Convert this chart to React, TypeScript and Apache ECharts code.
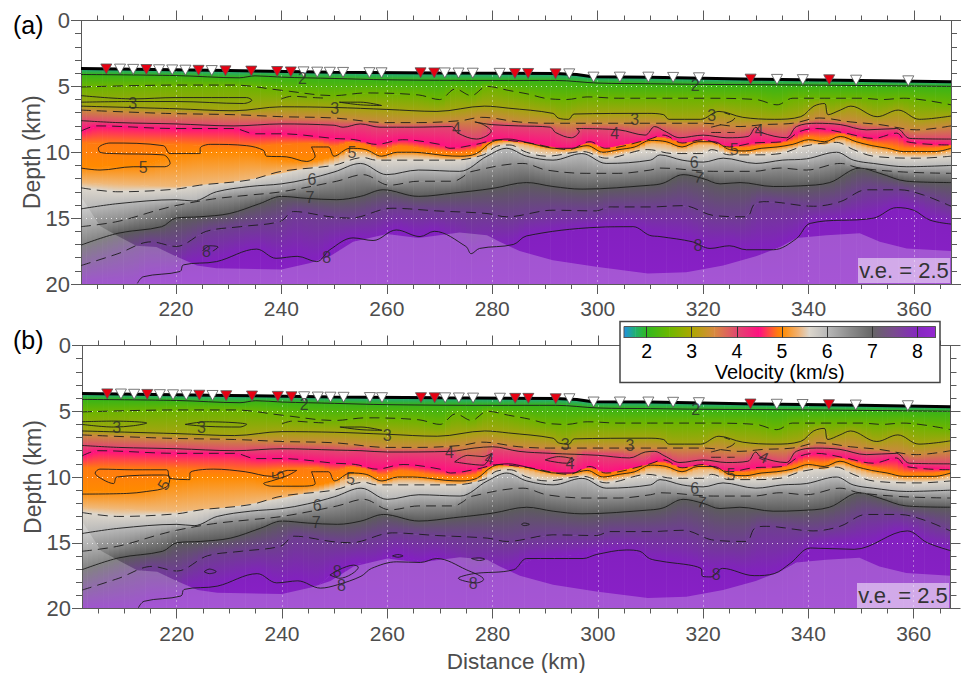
import React, { useEffect, useRef } from "react";
import * as echarts from "echarts";

type P = number[][];

const X_MIN = 202, X_MAX = 367;
const xMajor = [220, 240, 260, 280, 300, 320, 340, 360];
const xMinor = [205, 210, 215, 225, 230, 235, 245, 250, 255, 265, 270, 275, 285, 290, 295, 305, 310, 315, 325, 330, 335, 345, 350, 355, 365];
const yMajor = [0, 5, 10, 15, 20];
const yMinor = [1, 2, 3, 4, 6, 7, 8, 9, 11, 12, 13, 14, 16, 17, 18, 19];
const barTicks = [2, 3, 4, 5, 6, 7, 8];

// colour bar
const barVelocity = [1.5, 1.75, 2, 2.5, 3, 3.5, 4, 4.5, 4.9, 5, 5.35, 5.6, 6, 6.5, 7, 7.5, 8, 8.4];
const barColor = ["#2090e0", "#20b070", "#30b820", "#6cb800", "#aca800", "#d88a40", "#e04870", "#ff1080", "#ff7a10", "#ff8a00", "#f0b070", "#dcd6cc", "#b8b8b8", "#8c8c8c", "#666666", "#7a4a90", "#8528c0", "#9428d0"];

// iso-velocity depths [distance km, depth km]
const seafloor: P = [[202,3.65],[230,3.8],[250,3.92],[270,3.98],[292,4.03],[296,4.1],[299,4.27],[310,4.3],[330,4.45],[350,4.55],[367,4.65]];
const c2: P = [[202,4.1],[220,4.18],[232,4.35],[235,4.2],[240,4.3],[250,4.4],[260,4.5],[280,4.55],[292,4.55],[300,4.75],[310,4.8],[320,4.85],[340,4.9],[367,5.0]];
const c25: P = [[202,5.05],[220,4.9],[231,4.9],[240,5.3],[250,5.7],[256,5.5],[266,5.65],[270,6.0],[273,5.2],[276,5.7],[279,5],[283,5.3],[287,5.6],[290,5.9],[294,6],[298,5.8],[304,5.9],[310,5.9],[320,5.9],[330,6.0],[334,6.4],[337,5.9],[343,5.9],[350,5.9],[354,6.0],[358,5.9],[367,6.4]];
const c3: P = [[202,6.5],[220,6.7],[231,6.85],[240,6.55],[250,6.6],[260,6.75],[269.5,6.9],[278.5,6.5],[283,6.65],[291.5,7.05],[292.5,7.4],[294.5,7.5],[295.5,7.1],[309.5,7.05],[312.5,7.15],[313.5,7.5],[319.5,7.5],[323,6.9],[327.5,7.35],[333.5,7.5],[338.5,7.3],[341,6.5],[343,6.3],[343.7,7.15],[346,6.8],[348,6.5],[353,7.3],[357,6.8],[361,7.5],[367,7.25]];
const c35: P = [[202,6.8],[218,7.05],[231,7.15],[240,7.3],[250,7.4],[260,7.75],[266,7.75],[274,7.6],[278,7.35],[280,7.4],[285,7.7],[291,7.8],[300,7.8],[310,7.8],[320,7.8],[327,8.05],[331.5,7.9],[337,7.8],[342,7.4],[348,7.7],[353.5,7.9],[360.5,8.3],[367,8.0]];
const c4A: P = [[202,7.6],[209,7.75],[220,7.85],[231,8],[240,7.85],[250,7.95],[251.7,8.1],[255,7.85],[258.7,8.1],[265,8.1],[272.3,8.05],[273.5,8.55],[277,9],[279.8,8.4],[278.3,7.9],[276.7,7.7],[279.8,7.9],[285,8],[291,8.1],[292,8.5],[295,8.9],[296.5,8.4],[296,8.2],[304,8.3],[309,8.7],[310.8,8.05],[312.7,8.4],[315.6,8.9],[320,8.7],[324.5,8.9],[328.5,8.8],[330,8.1],[331,8.5],[335.8,8.9],[337.7,8.05],[341.5,7.8],[346,7.9],[351,8.3],[356.7,8.2],[359.2,8.95],[367,9.0]];
const c4B: P = [[202,7.6],[209,7.75],[220,7.85],[231,8],[240,7.85],[250,7.95],[255,8.0],[260,8.1],[272,8.05],[276.5,7.8],[280,7.7],[285,8.05],[291,8.2],[300,8.35],[306,8.55],[309,8.1],[310.8,8.05],[312.7,8.4],[315.6,8.9],[320,8.7],[324.5,8.9],[328.5,8.8],[330,8.1],[331,8.5],[335.8,8.9],[337.7,8.05],[341.5,7.8],[346,7.9],[351,8.3],[356.7,8.2],[359.2,8.95],[367,9.0]];
const c45: P = [[202,8.4],[205,8.0],[220,8.2],[231,8.2],[235,8.6],[240,8.6],[250,8.95],[254,9.05],[258,9.4],[263,9.05],[270,9.4],[272,9.7],[277,9.4],[281,9.06],[287,9.3],[294.5,9.8],[298.5,9.2],[301.5,9.7],[309.5,9.05],[312.5,8.7],[316,9.3],[320,9.05],[325,9.6],[329.5,9.3],[335,9.2],[338.5,8.4],[341.5,8.2],[347,8.55],[352.3,8.95],[356.7,8.55],[358.6,9.2],[367,9.45]];
const c48: P = [[202,9.3],[220,9.4],[232,9.6],[240,9.4],[247,9.3],[250,9.6],[253,9.2],[256,9.4],[259,9.9],[262,9.5],[265,9.6],[268,9.8],[271,9.95],[274,10.0],[277,9.8],[280,8.95],[283,8.7],[286,8.9],[289,9.2],[292,9.4],[295,9.4],[298,9.2],[301,9.7],[304,9.5],[307,9.3],[310,8.85],[313,8.95],[316,9.35],[319,8.95],[322,8.95],[325,9.55],[328,9.65],[331,9.45],[334,9.35],[337,9.15],[340,8.8],[343,8.95],[346,8.55],[349,8.95],[352,9.25],[355,9.45],[358,9.7],[361,9.7],[364,9.7],[367,9.45]];
const c5Right: P = [[250,10.3],[253,9.7],[256,9.8],[259,10.3],[262,10.0],[265,10.0],[268,10.1],[271,10.25],[274,10.3],[277,10.1],[280,9.2],[283,9.0],[286,9.2],[289,9.5],[292,9.7],[295,9.7],[298,9.5],[301,10.0],[304,9.8],[307,9.6],[310,9.1],[313,9.2],[316,9.6],[319,9.2],[322,9.2],[325,9.8],[328,9.9],[331,9.7],[334,9.6],[337,9.4],[340,9.05],[343,9.2],[346,8.8],[349,9.2],[352,9.5],[355,9.7],[358,9.95],[361,9.95],[364,9.95],[367,9.7]];
const c5FieldLeft: P = [[202,11.1],[214,11.0],[218,10.4],[224,10.0],[234,10.0],[238,10.4],[243,10.7],[247,10.6]];
const c5LeftA: P = [[202,11.2],[205.6,11.35],[211.9,11.1],[217.9,11.1],[218.9,10.85],[217.6,10.2],[208.1,10.1],[205.6,10],[205.3,9.7],[207.5,9.3],[217.6,9.5],[218.9,10.1],[224.6,10.1],[224.6,9.7],[226.5,9.4],[233.4,9.5],[236.6,9.85],[237.2,10.3],[241,10.35],[244.8,10.7],[246.4,10.3],[245.7,9.6],[248.9,9.6],[250,10.3]];
const c5LeftB: P = [[202,11.3],[210.5,11.25],[214.3,11.1],[218.1,10.75],[218.7,10],[217.5,9.85],[208.6,10],[208,10.5],[206,10.2],[204.5,9.7],[205.4,9.4],[211.8,9.45],[218.1,9.45],[218.7,10.1],[222.5,10.2],[222.5,9.7],[227,9.4],[233,9.6],[238,9.95],[241,9.5],[242.8,9.5],[241,9.9],[238,10.3],[236.5,10.5],[238,10.7],[243.4,10.7],[246.3,10.5],[245.6,9.6],[248.8,9.6],[250,10.3]];
const c53: P = [[202,12.3],[220,12.6],[230,12.3],[240,11.6],[247,11.0],[250,10.65],[253,9.95],[256,10.05],[259,10.55],[262,10.25],[265,10.25],[268,10.35],[271,10.5],[274,10.55],[277,10.35],[280,9.45],[283,9.25],[286,9.45],[289,9.75],[292,9.95],[295,9.95],[298,9.75],[301,10.25],[304,10.05],[307,9.85],[310,9.35],[313,9.45],[316,9.85],[319,9.45],[322,9.45],[325,10.05],[328,10.15],[331,9.95],[334,9.85],[337,9.65],[340,9.3],[343,9.45],[346,9.05],[349,9.45],[352,9.75],[355,9.95],[358,10.2],[361,10.2],[364,10.2],[367,9.95]];
const c55: P = [[202,12.7],[209,13],[220,12.8],[224.5,12.5],[234,12.1],[240,11.45],[249.8,11],[255.5,10.4],[258,10.6],[263.7,10.6],[272.6,10.6],[278.3,10.2],[280.8,9.55],[283.3,9.45],[286.5,10],[290.3,10.3],[297.2,9.95],[301.6,10.45],[309.5,9.8],[314.3,10.1],[320,10.1],[321.6,9.8],[325,10.2],[329.5,10.2],[334.6,10.1],[339,9.55],[345.3,9.25],[348.5,9.8],[352.3,10.3],[361,10.45],[367,10.3]];
const c6: P = [[202,14.3],[209,13.9],[220,13.6],[223.3,13.7],[227.7,13],[234,12.6],[240,12.4],[244.8,12.05],[250,11.5],[255,10.85],[260,11.7],[266,11.35],[273.8,11.45],[279,10.3],[282.7,9.7],[286.5,10.3],[291.5,10.6],[297,10.1],[301.6,10.85],[310,10.6],[311.8,10.2],[316,10.6],[320,10.75],[323.8,10.45],[330,10.85],[335,10.6],[339.6,10.5],[345.3,10.0],[348.5,10.6],[352.3,10.85],[358.6,11.1],[367,11]];
const c65: P = [[202,15.65],[209,15.25],[216.5,14.4],[220,14.05],[227,13.55],[234,13.25],[240,13],[250.5,12.2],[255.5,11.7],[260.5,12.5],[266,12.2],[272.6,12.2],[274.5,11.85],[275.7,11.5],[285.8,10.85],[290.3,11.35],[297.8,11.6],[304,11.6],[310,11.35],[311.8,11.2],[322,11.45],[329.5,11.45],[334.6,11.2],[339.6,11.35],[346,10.85],[349.7,11.2],[358,11.5],[367,11.6]];
const c7: P = [[202,17.05],[209,16.15],[217.3,15.65],[220,15],[224.5,14.9],[230.2,14.65],[235.9,13.9],[240,13.35],[244.8,13.5],[250.5,13.6],[255,13.35],[259.3,12.85],[266,13.35],[272.6,13.1],[280,12.75],[286.5,12.3],[291.5,12.6],[297,12.8],[310,12.5],[312.4,12.35],[316.2,11.7],[320,12],[323.2,12.4],[327,12.3],[333.3,12.6],[338.4,12.55],[344,12.3],[349.7,11.2],[353.5,11.6],[358.6,12.2],[367,12.3]];
const c75: P = [[202,18.6],[209,17.7],[215.3,16.8],[220,17.15],[225.8,16],[232.2,15.65],[239.8,15.25],[242.3,14.5],[249.3,14.9],[253,15],[261,14.25],[269.4,14.45],[279,14.65],[282.7,14.9],[291.5,14.4],[299.7,14.45],[302.3,14.15],[310,14.15],[316.2,14.05],[322,14.8],[328.2,14.9],[329.8,13.9],[332,13.75],[340.9,14.1],[346,13.75],[351,12.85],[357.3,12.85],[361.8,13.25],[367,14.1]];
const c8A: P = [[212.7,19.95],[213.8,19.45],[220.8,19.05],[221.4,18.55],[227.7,18.3],[235.3,17.35],[239,18.05],[243,17.9],[246.7,18.3],[249.2,17.4],[253.6,16.5],[257.4,16.7],[261.8,15.9],[266.3,16.4],[269,16],[275,17.15],[276,17.7],[277.6,17.3],[284,17],[286.5,16.35],[299.7,15.7],[306.7,15.65],[309.8,16.3],[311.8,16.4],[318,16.8],[321.3,17.3],[325,17.1],[328.2,17.4],[333.3,17.4],[337.7,16.55],[340.3,15.4],[352.3,15],[356.7,14.2],[359.9,14.4],[363,15.15],[367,15.45]];
const c8B: P = [[212.7,19.95],[213.8,19.45],[220.8,19.05],[221.4,18.55],[227.7,18.3],[235.3,17.35],[239,18.05],[243,17.9],[247.3,18.45],[250.5,18.2],[255,17.55],[257,16.95],[261.8,16.45],[266.3,16.5],[269.4,16.2],[275,17.05],[278.3,17.8],[277,18.05],[273.5,17.7],[276.4,17.35],[284,17.05],[286.5,16.2],[297.2,16.2],[299.7,15.9],[305.4,15.55],[308,15.65],[309.8,16.2],[312,16.4],[319.6,16.95],[319.9,17.55],[321.5,17.6],[323.7,16.95],[329.7,17.5],[333.5,17.35],[336.6,16.55],[340.4,15.4],[348.7,15.5],[358.8,14.1],[362.6,15],[367,15.6]];
const c8Field: P = [[202,20],[212.7,20]];
const bottomDepth: P = [[202,20],[367,20]];

// closed or short extra contours
const extraA: P[] = [
  [[202,5.7],[211.9,5.95],[220,5.85],[233.4,5.85],[234.4,6.05],[232.8,6.3],[220,6.15],[211.9,6.15],[202,6.2]],
  [[251,6.2],[255,6.4],[259,6.45],[255,6.2],[251,6.2]],
  [[225,17.5],[226.5,17.1],[228,17.2],[227,17.5]],
];
const extraB: P[] = [
  [[202,5.8],[208,5.75],[214.3,5.9],[211.8,6.1],[208,6.2],[202,6.0]],
  [[221.6,6.0],[225.7,5.8],[233.3,6.0],[232,6.2],[225.7,6.15],[221.6,6.0]],
  [[251,6.2],[255,6.4],[259,6.45],[255,6.2],[251,6.2]],
  [[272.8,8.85],[275.3,8.35],[278.2,8.45],[279.8,8.2],[278.2,9.1],[275.3,9],[272.8,8.85]],
  [[290,8.7],[292.5,8.45],[295.5,8.7],[294,8.95],[291,8.8],[290,8.7]],
  [[225.2,17.2],[226.2,17.0],[227.5,17.2],[226.2,17.35],[225.2,17.2]],
  [[261,16],[262,15.9],[263,16.0],[262,16.1],[261,16]],
  [[276,16.2],[277.5,16.15],[278.5,16.25],[277.5,16.35],[276,16.2]],
  [[285.5,13.6],[286,13.5],[287,13.6],[286,13.7],[285.5,13.6]],
  [[249.1,17.45],[253.6,16.7],[254.5,16.85],[251,17.7],[249.1,17.45]],
];
const extraDashed: P[] = [
  [[240,5.95],[242,5.75],[246,5.85],[249,5.9]],
  [[321.5,8.1],[325,7.7],[326,7.4],[324,7.0]],
  [[321.5,8.5],[326,8.5]],
];

// edge of ray coverage
const coverageEdge: P = [[202,13.4],[202.4,13.6],[205.6,15.6],[208.7,16.3],[212.5,17.1],[216.3,17.2],[220,17.9],[224,18.6],[227.7,18.8],[240,18.9],[245.5,18.4],[249.2,17.9],[253.6,16.8],[260,16.2],[266,16.5],[273.8,16.1],[279,16.3],[281.4,16.8],[285.2,17.5],[291.5,18.2],[299.7,18.7],[309.5,19.2],[316.8,19.1],[323.8,18.6],[330,17.9],[334.6,17.2],[337.7,16.5],[343.4,16.3],[349.7,16.15],[353.5,16.8],[358.6,17.3],[367,17.5]];

const redStations: P = [[206.8,3.68],[214.4,3.72],[224.3,3.78],[229.4,3.82],[234.3,3.84],[239.2,3.87],[241.8,3.9],[266.4,3.97],[269,3.98],[284.3,4.02],[286.8,4.02],[292,4.05],[329,4.45],[343.9,4.5]];
const whiteStations: P = [[209.4,3.69],[211.9,3.71],[216.8,3.74],[219.3,3.75],[221.8,3.77],[226.8,3.8],[244.2,3.9],[246.8,3.92],[249.2,3.93],[251.7,3.94],[256.7,3.96],[259,3.97],[271,3.98],[273.6,3.99],[276.3,4],[281.4,4.01],[294.6,4.05],[299.2,4.3],[304.2,4.3],[309.6,4.3],[314.3,4.32],[319.2,4.35],[334,4.47],[338.9,4.49],[349,4.53],[358.9,4.58]];

// contour labels: distance, depth, text, rotation
const labelsA: (number | string)[][] = [
  [244,4.4,"2",0],[318.5,4.9,"2",0],[211.8,6.3,"3",0],[250.1,6.7,"3",0],[321.6,7.2,"3",0],[307,7.55,"3",0],
  [273.2,8.2,"4",0],[303.2,8.55,"4",0],[330.6,8.35,"4",0],[213.8,11.15,"5",0],[253.4,10,"5",0],[325.9,9.8,"5",0],
  [245.8,12.1,"6",0],[318.3,10.75,"6",0],[245.4,13.45,"7",0],[319.2,11.9,"7",-10],[225.8,17.5,"8",0],[248.6,18,"8",0],[319,17.1,"8",0],
];
const labelsB: (number | string)[][] = [
  [244.2,4.5,"2",0],[318.6,4.85,"2",0],[208.6,6.2,"3",0],[224.7,6.2,"3",0],[260,6.85,"3",0],[293.8,7.55,"3",0],[306.1,7.6,"3",0],
  [271.8,8.1,"4",0],[279.4,8.6,"4",-10],[294.7,9,"4",0],[331.5,8.5,"4",-25],[217.5,10.6,"5",60],[239.3,9.85,"5",90],[253,10.1,"5",0],[325.3,9.8,"5",0],
  [246.7,12.15,"6",0],[318.4,10.85,"6",0],[246.5,13.45,"7",0],[319.7,11.9,"7",-10],[250.5,17.15,"8",0],[251.3,18.25,"8",0],[276.3,18.1,"8",0],[322.5,17.45,"8",0],
];

const fieldLevels: P[] = [seafloor, c2, c25, c3, c35, c4A, c45, c48, [...c5FieldLeft, ...c5Right], c53, c55, c6, c65, c7, c75, [...c8Field, ...c8A], bottomDepth];
const fieldColors = ["#20a888", "#38b418", "#6cb400", "#a4a410", "#c88a3c", "#e04870", "#ff1080", "#ff7a10", "#ff8a00", "#f0b878", "#dcd6cc", "#b8b8b8", "#8c8c8c", "#5c5c5c", "#6e3f90", "#8320c0", "#8a20c8"];

function depthAt(nodes: P, x: number): number {
  if (x <= nodes[0][0]) return nodes[0][1];
  for (let i = 0; i < nodes.length - 1; i++) {
    const a = nodes[i], b = nodes[i + 1];
    if (b[0] > a[0] && x >= a[0] && x <= b[0]) return a[1] + ((b[1] - a[1]) * (x - a[0])) / (b[0] - a[0]);
  }
  return nodes[nodes.length - 1][1];
}

const columnCache = new Map<number, number[]>();
function column(x: number): number[] {
  let c = columnCache.get(x);
  if (!c) {
    c = [];
    let prev = 0;
    for (const l of fieldLevels) {
      prev = Math.max(prev, depthAt(l, x));
      c.push(prev);
    }
    columnCache.set(x, c);
  }
  return c;
}

const fieldCells: number[][] = [];
for (let x = X_MIN; x < X_MAX; x++) for (let k = 0; k < fieldLevels.length - 1; k++) fieldCells.push([x, x + 1, k]);

const FONT = "'Liberation Sans', Arial, sans-serif";
const GREY = "#5a5a5a";
const TXT = "#4d4d4d";

function xAxes(gridIndex: number, labelMargin: number) {
  const common = { type: "value", gridIndex, min: X_MIN, max: X_MAX, z: 3, axisLine: { show: true, onZero: false, lineStyle: { color: GREY, width: 1 } } };
  return [
    { ...common, position: "bottom",
      axisTick: { show: true, length: 10, customValues: xMajor, lineStyle: { color: GREY } },
      axisLabel: { show: true, customValues: xMajor, margin: labelMargin, fontSize: 21, color: TXT, fontFamily: FONT },
      splitLine: { show: true, lineStyle: { color: "#ffffff", type: [1, 4], opacity: 0.75 } } },
    { ...common, position: "bottom", axisTick: { show: true, length: 5, customValues: xMinor, lineStyle: { color: GREY } }, axisLabel: { show: false }, splitLine: { show: false } },
    { ...common, position: "top", axisTick: { show: true, length: 10, customValues: xMajor, lineStyle: { color: GREY } }, axisLabel: { show: false }, splitLine: { show: false } },
    { ...common, position: "top", axisTick: { show: true, length: 5, customValues: xMinor, lineStyle: { color: GREY } }, axisLabel: { show: false }, splitLine: { show: false } },
  ];
}
function yAxes(gridIndex: number) {
  const common = { type: "value", gridIndex, min: 0, max: 20, inverse: true, z: 3, axisLine: { show: true, onZero: false, lineStyle: { color: GREY, width: 1 } } };
  return [
    { ...common, position: "left", name: "Depth (km)", nameLocation: "middle", nameGap: 38, nameRotate: 90, nameMoveOverlap: false,
      nameTextStyle: { fontSize: 23, color: TXT, fontFamily: FONT },
      axisTick: { show: true, length: 10, customValues: yMajor, lineStyle: { color: GREY } },
      axisLabel: { show: true, customValues: yMajor, margin: 11, fontSize: 22, color: TXT, fontFamily: FONT },
      splitLine: { show: true, lineStyle: { color: "#ffffff", type: [1, 4], opacity: 0.75 } } },
    { ...common, position: "left", axisTick: { show: true, length: 6, customValues: yMinor, lineStyle: { color: GREY } }, axisLabel: { show: false }, splitLine: { show: false } },
    { ...common, position: "right", axisTick: { show: true, length: 10, customValues: yMajor, lineStyle: { color: GREY } }, axisLabel: { show: false }, splitLine: { show: false } },
    { ...common, position: "right", axisTick: { show: true, length: 6, customValues: yMinor, lineStyle: { color: GREY } }, axisLabel: { show: false }, splitLine: { show: false } },
  ];
}

function panelSeries(ax: number, solid: P[], labels: (number | string)[][]) {
  const base = { xAxisIndex: ax, yAxisIndex: ax };
  const out: any[] = [];
  out.push({
    ...base, type: "custom", z: 1, silent: true, progressive: 0, data: fieldCells, clip: true,
    encode: { x: [0, 1], y: 2 },
    renderItem: (_: any, api: any) => {
      const x0 = api.value(0), x1 = api.value(1), k = api.value(2);
      const a = column(x0), b = column(x1);
      if (a[k + 1] - a[k] < 0.005 && b[k + 1] - b[k] < 0.005) return null;
      const tl = api.coord([x0, a[k]]), tr = api.coord([x1, b[k]]);
      const bl = api.coord([x0, a[k + 1]]), br = api.coord([x1, b[k + 1]]);
      const ov = x1 >= X_MAX ? 0 : 0.6;
      const yTop = (tl[1] + tr[1]) / 2, yBot = Math.max((bl[1] + br[1]) / 2, yTop + 0.5);
      return {
        type: "polygon",
        shape: { points: [[tl[0], tl[1]], [tr[0] + ov, tr[1]], [br[0] + ov, br[1] + 0.6], [bl[0], bl[1] + 0.6]] },
        style: { fill: new echarts.graphic.LinearGradient(0, yTop, 0, yBot, [{ offset: 0, color: fieldColors[k] }, { offset: 1, color: fieldColors[k + 1] }], true) },
      };
    },
  });
  out.push({
    ...base, type: "custom", z: 2, silent: true, data: [[X_MIN, 20]], encode: { x: 0, y: 1 },
    renderItem: (_: any, api: any) => {
      const pts = [[X_MIN, 20], ...coverageEdge, [X_MAX, 20]].map((p) => api.coord(p));
      return { type: "polygon", shape: { points: pts }, style: { fill: "rgba(255,255,255,0.24)" } };
    },
  });
  const line = (data: P, dashed: boolean) => ({
    ...base, type: "line", z: 4, silent: true, data, symbol: "none", smooth: 0.35, showSymbol: false,
    lineStyle: { color: "#1c1c1c", width: 1, opacity: 0.9, type: dashed ? [10, 6] : "solid" },
  });
  solid.forEach((d) => out.push(line(d, false)));
  [c25, c35, c45, c55, c65, c75, ...extraDashed].forEach((d) => out.push(line(d, true)));
  out.push({ ...base, type: "line", z: 5, silent: true, data: seafloor, symbol: "none", lineStyle: { color: "#000", width: 3 } });
  const tri = (data: P, color: string) => ({
    ...base, type: "scatter", z: 6, silent: true, data, symbol: "triangle", symbolRotate: 180, symbolSize: [11, 10],
    itemStyle: { color, borderColor: "#555", borderWidth: 0.8, opacity: 1 },
  });
  out.push(tri(redStations, "#e60012"), tri(whiteStations, "#ffffff"));
  out.push({
    ...base, type: "scatter", z: 6, silent: true, symbolSize: 1, itemStyle: { color: "transparent" },
    data: labels.map((l) => ({
      value: [l[0], l[1]],
      label: { show: true, position: "inside", formatter: String(l[2]), rotate: l[3] as number, fontSize: 16, color: "#2c2c2c", fontFamily: FONT },
    })),
  });
  return out;
}

export default function App() {
  const ref = useRef<HTMLDivElement>(null);
  useEffect(() => {
    const chart = echarts.init(ref.current!, undefined, { renderer: "svg" });
    const barCells = barVelocity.slice(0, -1).map((v, i) => [v, barVelocity[i + 1], i]);
    const veBox = (x: number, y: number, w: number, h: number) => [
      { type: "rect", z: 8, shape: { x, y, width: w, height: h }, style: { fill: "rgba(255,255,255,0.5)" } },
      { type: "text", z: 8, x: x + w / 2, y: y + h / 2, style: { text: "v.e. = 2.5", fill: "#333", font: `22px ${FONT}`, align: "center", verticalAlign: "middle" } },
    ];
    chart.setOption({
      animation: false,
      textStyle: { fontFamily: FONT },
      grid: [
        { left: 81, top: 20.5, width: 870, height: 263.5, z: 1, outerBoundsMode: "none" },
        { left: 82, top: 345.5, width: 868.5, height: 263, z: 1, outerBoundsMode: "none" },
        { left: 624, top: 326.5, width: 311.5, height: 11, z: 9, outerBoundsMode: "none", show: true, borderColor: "#555", borderWidth: 1, backgroundColor: "transparent" },
      ],
      xAxis: [
        ...xAxes(0, 14),
        ...xAxes(1, 14).map((a, i) => (i === 0 ? { ...a, name: "Distance (km)", nameLocation: "middle", nameGap: 41, nameMoveOverlap: false, nameTextStyle: { fontSize: 22.5, color: TXT, fontFamily: FONT } } : a)),
        { type: "value", gridIndex: 2, min: 1.5, max: 8.4, z: 9, position: "bottom", name: "Velocity (km/s)", nameLocation: "middle", nameGap: 24, nameMoveOverlap: false,
          nameTextStyle: { fontSize: 20, color: "#000", fontFamily: FONT },
          axisLine: { show: true, onZero: false, lineStyle: { color: "#555" } },
          axisTick: { show: true, inside: true, length: 11, customValues: barTicks, lineStyle: { color: "#333" } },
          axisLabel: { show: true, customValues: barTicks, margin: 3, fontSize: 19.5, color: "#000", fontFamily: FONT },
          splitLine: { show: false } },
      ],
      yAxis: [
        ...yAxes(0),
        ...yAxes(1),
        { type: "value", gridIndex: 2, min: 0, max: 1, show: false },
      ],
      series: [
        ...panelSeries(0, [c2, c3, c4A, [...c5LeftA, ...c5Right], c6, c7, c8A, ...extraA], labelsA),
        ...panelSeries(4, [c2, c3, c4B, [...c5LeftB, ...c5Right], c6, c7, c8B, ...extraB], labelsB),
        {
          type: "custom", xAxisIndex: 8, yAxisIndex: 8, z: 8.5, silent: true, data: barCells, encode: { x: [0, 1] },
          renderItem: (_: any, api: any) => {
            const v0 = api.value(0), v1 = api.value(1), i = api.value(2);
            const a = api.coord([v0, 1]), b = api.coord([v1, 0]);
            return {
              type: "rect",
              shape: { x: a[0], y: a[1], width: b[0] - a[0] + 0.5, height: b[1] - a[1] },
              style: { fill: new echarts.graphic.LinearGradient(a[0], 0, b[0], 0, [{ offset: 0, color: barColor[i] }, { offset: 1, color: barColor[i + 1] }], true) },
            };
          },
        },
      ],
      graphic: {
        elements: [
          { type: "text", z: 8, x: 13, y: 25, style: { text: "(a)", fill: "#000", font: `25px ${FONT}`, verticalAlign: "middle" } },
          { type: "text", z: 8, x: 13, y: 340, style: { text: "(b)", fill: "#000", font: `25px ${FONT}`, verticalAlign: "middle" } },
          ...veBox(858, 258, 92, 25),
          ...veBox(857, 583, 92, 25),
          { type: "rect", z: 8, shape: { x: 620, y: 321.5, width: 320, height: 61 }, style: { fill: "#fff", stroke: "#444", lineWidth: 1.5 } },
        ],
      },
    });
    return () => chart.dispose();
  }, []);
  return <div ref={ref} style={{ position: "absolute", left: 0, top: 0, width: 963, height: 673 }} />;
}
